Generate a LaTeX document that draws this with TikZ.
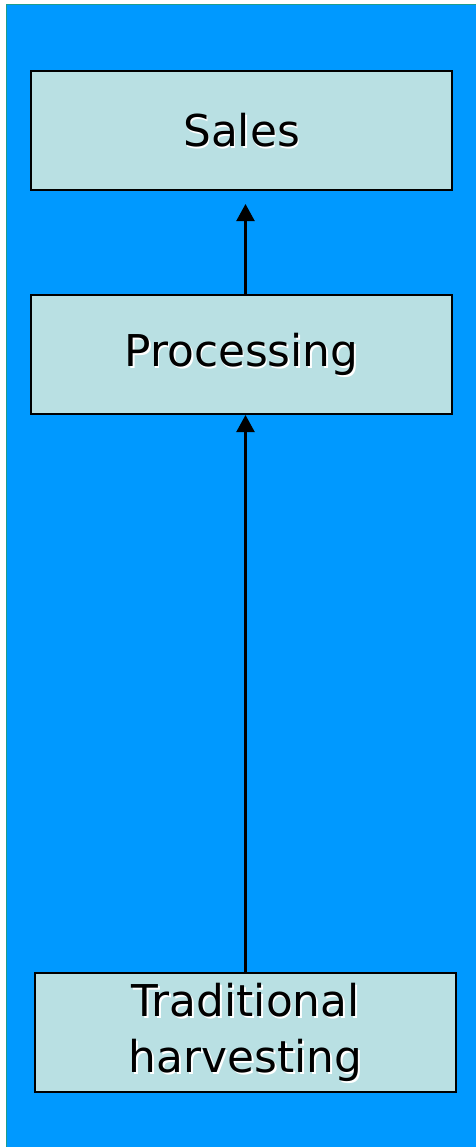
\documentclass[tikz,border=0pt]{standalone}
\usepackage{fontspec}
\setmainfont{DejaVu Sans}
\usetikzlibrary{arrows.meta}
\definecolor{bgblue}{HTML}{0099FF}
\definecolor{boxfill}{HTML}{B9E0E3}
\definecolor{edgeteal}{HTML}{1E9E8E}
\tikzset{
  stagebox/.style={draw=black, fill=boxfill, line width=2bp, minimum width=421bp, minimum height=119bp, inner sep=0pt},
  stagetext/.style={font=\fontsize{44}{56}\selectfont, align=center, text=black, inner sep=0pt},
  shadowtext/.style={stagetext, text=white},
  flowarrow/.style={line width=2.2bp, -{Triangle[length=17bp,width=18bp]}}
}
\begin{document}
\begin{tikzpicture}[x=1bp,y=-1bp]
\useasboundingbox (0,0) rectangle (476,1147);
\fill[white] (0,0) rectangle (476,1147);
\draw[edgeteal, line width=1.8bp, fill=bgblue] (6.5,4.5) rectangle (490,1160);
% boxes
\node[stagebox] (sales) at (241.5,130.5) {};
\node[stagebox] (proc) at (241.5,354.5) {};
\node[stagebox] (trad) at (245.5,1032.5) {};
% text with white shadow
\node[shadowtext] (salesS) at ([shift={(1.8,1.8)}]sales.center) {Sales};
\node[stagetext] (salesT) at (sales.center) {Sales};
\node[shadowtext] (procS) at ([shift={(1.8,1.8)}]proc.center) {Processing};
\node[stagetext] (procT) at (proc.center) {Processing};
\node[shadowtext] (tradS) at ([shift={(1.8,1.8)}]trad.center) {Traditional\\harvesting};
\node[stagetext] (tradT) at (trad.center) {Traditional\\harvesting};
% connectors
\draw[flowarrow] (trad.north) -- (trad.north |- proc.south);
\draw[flowarrow, shorten >=13bp] (trad.north |- proc.north) -- (trad.north |- sales.south);
\end{tikzpicture}
\end{document}
